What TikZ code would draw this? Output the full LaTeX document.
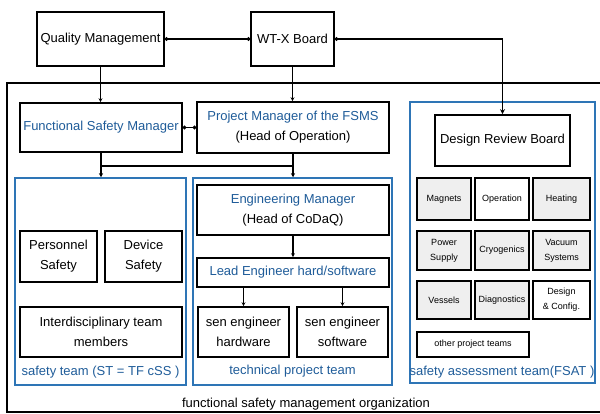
\documentclass[tikz,border=0pt]{standalone}
\usepackage{fontspec}
\setmainfont{Liberation Sans}
\usetikzlibrary{arrows.meta}
\definecolor{tblue}{HTML}{1F5C99}
\definecolor{bblue}{HTML}{2E75B6}
\definecolor{lgray}{HTML}{EFEFEF}
\begin{document}
\begin{tikzpicture}[x=1pt,y=-1pt,
  box/.style={draw=black, line width=1.6pt, align=center, inner sep=0pt, fill=white,
    font=\fontsize{13}{20}\selectfont},
  gbox/.style={box, fill=lgray, font=\fontsize{9}{15}\selectfont},
  wbox/.style={box, font=\fontsize{9}{15}\selectfont},
  team/.style={draw=bblue, line width=1.5pt, inner sep=0pt},
  tlabel/.style={text=tblue, font=\fontsize{13}{15}\selectfont, inner sep=0pt},
  conn/.style={line width=1.5pt, draw=black},
  arr/.style={conn, -{Stealth[length=4pt,width=4pt]}},
  dots/.style={conn, {Circle[length=3.5pt,width=3.5pt]}-{Circle[length=3.5pt,width=3.5pt]}},
  dotarr/.style={conn, {Circle[length=3.5pt,width=3.5pt]}-{Stealth[length=5pt,width=5pt]}}
]
\useasboundingbox (0,0) rectangle (600,414);
\clip (0,0) rectangle (600,414);
% outer frame
\draw[line width=1.4pt] (610,83) -- (7,83) -- (7,412) -- (610,412);
\node[font=\fontsize{13}{15}\selectfont, inner sep=0pt] (org) at (306,404) {functional safety management organization};

% team frames
\node[team, minimum width=171pt, minimum height=207pt] (st) at (100.5,281.5) {};
\node[team, minimum width=199pt, minimum height=207pt] (tt) at (292.5,281.5) {};
\node[team, minimum width=185pt, minimum height=281pt] (fsat) at (502.5,242.5) {};

% top boxes
\node[box, minimum width=127pt, minimum height=54pt] (qm) at (100.5,39) {Quality Management};
\node[box, minimum width=83pt, minimum height=54pt] (wtx) at (292.5,39) {WT-X Board};
\node[box, minimum width=162pt, minimum height=49pt, text=tblue] (fsm) at (101,127.5) {Functional Safety Manager};
\node[box, minimum width=192pt, minimum height=51pt] (pm) at (293,127.5) {{\color{tblue}Project Manager of the FSMS}\\(Head of Operation)};
\node[box, minimum width=135pt, minimum height=51pt] (drb) at (502.5,140.5) {Design Review Board};

% safety team
\node[box, minimum width=77pt, minimum height=51pt] (pers) at (58.5,256.5) {Personnel\\Safety};
\node[box, minimum width=77pt, minimum height=51pt] (dev) at (143.5,256.5) {Device\\Safety};
\node[box, minimum width=162pt, minimum height=50pt] (inter) at (101,332) {Interdisciplinary team\\members};
\node[tlabel] (stl) at (100.5,372) {safety team (ST = TF cSS )};

% technical project team
\node[box, minimum width=192pt, minimum height=50pt] (em) at (293,210) {{\color{tblue}Engineering Manager}\\(Head of CoDaQ)};
\node[box, minimum width=192pt, minimum height=29pt, text=tblue] (lead) at (293,272.5) {Lead Engineer hard/software};
\node[box, minimum width=91pt, minimum height=50pt] (hw) at (243.5,332) {sen engineer\\hardware};
\node[box, minimum width=91pt, minimum height=50pt] (sw) at (342.5,332) {sen engineer\\software};
\node[tlabel] (ttl) at (292.5,371) {technical project team};

% safety assessment team
\node[gbox, minimum width=54pt, minimum height=42pt] (mag) at (444,199) {Magnets};
\node[wbox, minimum width=54pt, minimum height=42pt] (op) at (502,199) {Operation};
\node[gbox, minimum width=57pt, minimum height=42pt] (heat) at (561.5,199) {Heating};
\node[gbox, minimum width=54pt, minimum height=39pt] (ps) at (444,250.5) {Power\\Supply};
\node[gbox, minimum width=54pt, minimum height=39pt] (cryo) at (502,250.5) {Cryogenics};
\node[gbox, minimum width=57pt, minimum height=39pt] (vac) at (561.5,250.5) {Vacuum\\Systems};
\node[gbox, minimum width=54pt, minimum height=38pt] (ves) at (444,300) {Vessels};
\node[gbox, minimum width=54pt, minimum height=38pt] (diag) at (502,300) {Diagnostics};
\node[wbox, minimum width=57pt, minimum height=38pt] (dc) at (561.5,300) {Design\\\& Config.};
\node[wbox, minimum width=112pt, minimum height=25pt] (opt) at (473,344.5) {other project teams};
\node[tlabel] (fsatl) at (502,372) {safety assessment team(FSAT )};

% connectors
\draw[dots] (qm.east) -- (wtx.west);
\draw[dotarr] (wtx.east) -| (drb.north);
\draw[arr] (qm.south) -- (qm.south |- fsm.north);
\draw[arr] (wtx.south) -- (wtx.south |- pm.north);
\draw[dots] (fsm.east) -- (pm.west);
\coordinate (j1) at (fsm.south |- 0,166);
\coordinate (j2) at (pm.south |- 0,166);
\draw[arr] (fsm.south) -- (fsm.south |- st.north);
\draw[arr] (pm.south) -- (pm.south |- tt.north);
\draw[conn] (j1) -- (j2);
\draw[arr] (em.south) -- (lead.north);
\draw[arr] (hw.north |- lead.south) -- (hw.north);
\draw[arr] (sw.north |- lead.south) -- (sw.north);
\end{tikzpicture}
\end{document}
